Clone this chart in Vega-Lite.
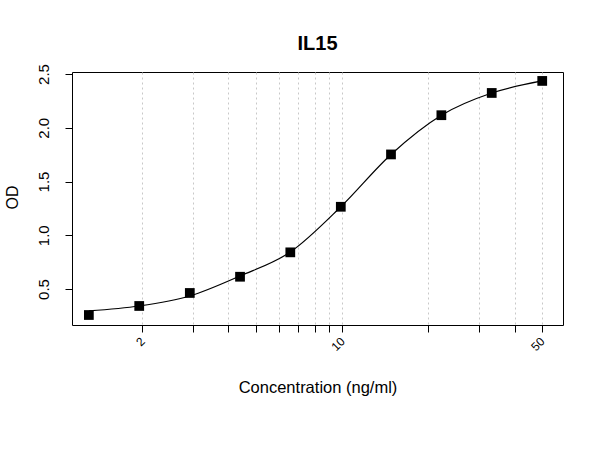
{
  "$schema": "https://vega.github.io/schema/vega-lite/v6.json",
  "width": 491,
  "height": 253,
  "autosize": "none",
  "padding": {"left": 72, "top": 72, "right": 37, "bottom": 125},
  "background": "white",
  "title": {"text": "IL15", "fontSize": 20, "font": "Liberation Sans", "fontWeight": "bold", "color": "black", "anchor": "middle", "offset": 27, "dy": 33, "baseline": "alphabetic"},
  "config": {"view": {"stroke": "black", "strokeWidth": 1}, "font": "Liberation Sans"},
  "datasets": {
    "points": [
      {"conc": 1.30, "od": 0.258},
      {"conc": 1.95, "od": 0.342},
      {"conc": 2.93, "od": 0.463},
      {"conc": 4.39, "od": 0.614},
      {"conc": 6.58, "od": 0.841},
      {"conc": 9.88, "od": 1.265},
      {"conc": 14.8, "od": 1.752},
      {"conc": 22.2, "od": 2.117},
      {"conc": 33.3, "od": 2.324},
      {"conc": 50.0, "od": 2.436}
    ],
    "curve": [
      {"conc": 1.30, "od": 0.296},
      {"conc": 1.95, "od": 0.342},
      {"conc": 2.93, "od": 0.435},
      {"conc": 4.39, "od": 0.621},
      {"conc": 6.58, "od": 0.844},
      {"conc": 9.88, "od": 1.265},
      {"conc": 14.8, "od": 1.752},
      {"conc": 22.2, "od": 2.117},
      {"conc": 33.3, "od": 2.324},
      {"conc": 50.0, "od": 2.436}
    ]
  },
  "encoding": {
    "x": {
      "field": "conc", "type": "quantitative",
      "scale": {"type": "log", "domain": [1.135, 59.1], "nice": false},
      "axis": {
        "title": "Concentration (ng/ml)",
        "values": [2, 3, 4, 5, 6, 7, 8, 9, 10, 20, 30, 40, 50],
        "format": "d",
        "labelExpr": "datum.value == 2 || datum.value == 10 || datum.value == 50 ? datum.label : ''",
        "labelAngle": -45, "labelAlign": "right", "labelBaseline": "middle",
        "labelFontSize": 12, "labelPadding": 7, "labelColor": "black",
        "labelOverlap": false, "labelFlush": false,
        "tickSize": 7, "tickColor": "black", "domain": false,
        "grid": true, "gridColor": "#c8c8c8", "gridDash": [2, 3],
        "titleFontSize": 16.5, "titleFontWeight": "normal", "titleColor": "black",
        "titleY": 67, "titleBaseline": "alphabetic"
      }
    },
    "y": {
      "field": "od", "type": "quantitative",
      "scale": {"domain": [0.165, 2.519], "nice": false, "zero": false},
      "axis": {
        "title": "OD",
        "values": [0.5, 1, 1.5, 2, 2.5],
        "format": ".1f",
        "labelAngle": -90, "labelAlign": "center", "labelBaseline": "alphabetic",
        "labelPadding": 17, "labelFontSize": 15, "labelColor": "black",
        "tickSize": 7, "tickColor": "black", "domain": false, "grid": false,
        "titleFontSize": 16, "titleFontWeight": "normal", "titleColor": "black",
        "titleAngle": -90, "titleX": -55, "titleY": 125,
        "titleAlign": "center", "titleBaseline": "alphabetic"
      }
    }
  },
  "layer": [
    {"data": {"name": "curve"}, "mark": {"type": "line", "color": "black", "strokeWidth": 1.2, "interpolate": "monotone"}},
    {"data": {"name": "points"}, "mark": {"type": "square", "filled": true, "color": "black", "size": 95, "opacity": 1}}
  ]
}
